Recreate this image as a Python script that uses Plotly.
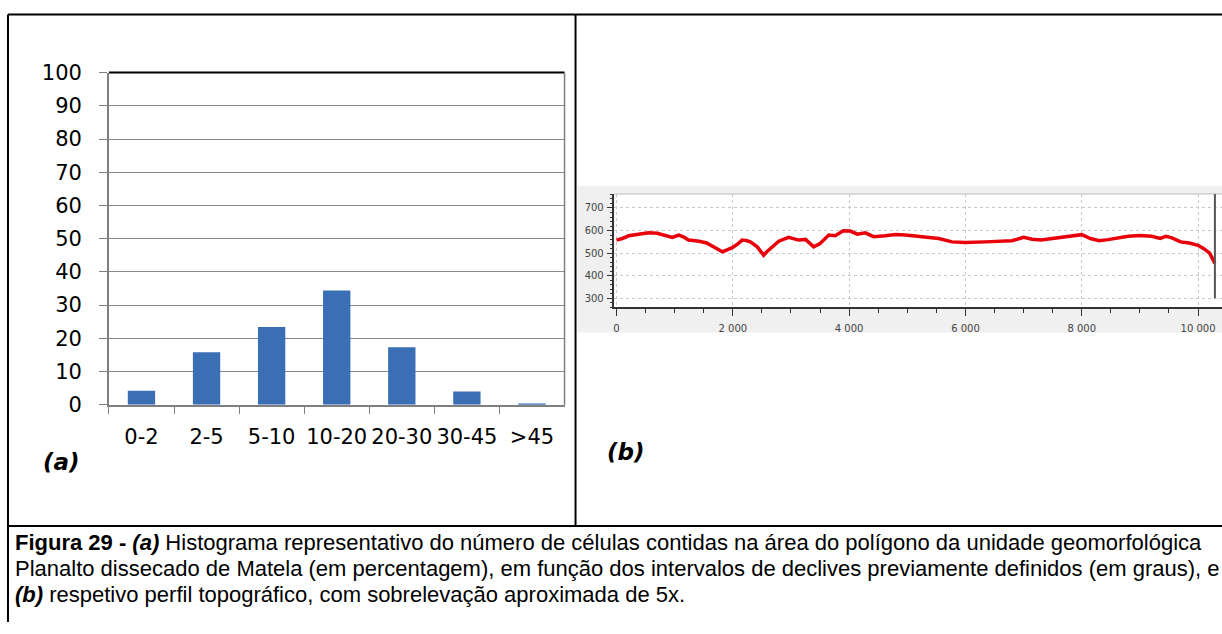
import plotly.graph_objects as go

W, H = 1222, 634

# ---- data: (a) slope histogram ----
slope_classes = ["0-2", "2-5", "5-10", "10-20", "20-30", "30-45", ">45"]
cell_percent = [4.2, 15.8, 23.4, 34.4, 17.3, 4.0, 0.2]
pct_ticks = [0, 10, 20, 30, 40, 50, 60, 70, 80, 90, 100]

# ---- data: (b) topographic profile ----
distance_m = [0, 100, 210, 350, 550, 700, 785, 900, 960, 1070, 1150, 1240, 1420, 1550,
              1640, 1750, 1820, 1900, 1990, 2080, 2160, 2230, 2300, 2420, 2480, 2530,
              2580, 2650, 2790, 2960, 3130, 3250, 3390, 3500, 3650, 3760, 3900, 4020,
              4140, 4280, 4420, 4620, 4800, 4970, 5200, 5540, 5770, 6000, 6340, 6570,
              6800, 7000, 7150, 7300, 7500, 7700, 7850, 8000, 8150, 8300, 8450, 8600,
              8800, 9000, 9200, 9350, 9450, 9550, 9700, 9850, 10000, 10100, 10200, 10290]
elevation_m = [558, 565, 577, 583, 590, 588, 583, 575, 570, 580, 572, 558, 553, 545,
               532, 520, 506, 515, 524, 540, 558, 556, 550, 528, 505, 491,
               505, 521, 553, 570, 558, 561, 528, 543, 580, 577, 599, 598,
               584, 590, 573, 577, 583, 580, 573, 565, 550, 547, 550, 553,
               555, 570, 562, 558, 565, 575, 580, 582, 565, 555, 560, 567,
               575, 578, 575, 565, 575, 568, 550, 545, 535, 520, 500, 455]
profile_end = distance_m[-1]

caption_lines = [
    "<b>Figura 29 - </b><b><i>(a)</i></b> Histograma representativo do número de células contidas na área do polígono da unidade geomorfológica",
    "Planalto dissecado de Matela (em percentagem), em função dos intervalos de declives previamente definidos (em graus), e",
    "<b><i>(b)</i></b> respetivo perfil topográfico, com sobrelevação aproximada de 5x.",
]


def px(x):
    return x / W


def py(y):
    # vertical placement, corrected for the capture's vertical offset/scale
    yy = (y - 12.6) / 0.959
    return min(1.0, max(0.0, 1 - yy / H))


fig = go.Figure()
fig.add_trace(go.Bar(x=slope_classes, y=cell_percent, width=0.42,
                     marker=dict(color="#3A6FB6", line=dict(width=0)),
                     xaxis="x", yaxis="y", showlegend=False))
fig.add_trace(go.Scatter(x=distance_m, y=elevation_m, mode="lines",
                         line=dict(color="#E8000B", width=3.5),
                         xaxis="x2", yaxis="y2", showlegend=False))

shapes = []
# gray panel & white plot area of the profile
shapes.append(dict(type="rect", xref="paper", yref="paper", x0=px(577), x1=1, y0=py(332), y1=py(186),
                   fillcolor="#f0f0f0", line=dict(width=0), layer="below"))
shapes.append(dict(type="rect", xref="paper", yref="paper", x0=px(614), x1=1, y0=py(307), y1=py(194),
                   fillcolor="white", line=dict(width=0), layer="below"))
shapes.append(dict(type="line", xref="paper", yref="paper", x0=px(614), x1=1, y0=py(194), y1=py(194),
                   line=dict(color="#bdbdbd", width=1)))
# end-of-profile marker line
shapes.append(dict(type="line", xref="x2", yref="y2", x0=profile_end, x1=profile_end, y0=300, y1=762,
                   line=dict(color="#555555", width=2)))
# bar chart top/right border
shapes.append(dict(type="line", xref="paper", yref="paper", x0=px(108), x1=px(564), y0=py(73), y1=py(73),
                   line=dict(color="black", width=2)))
shapes.append(dict(type="line", xref="paper", yref="paper", x0=px(564), x1=px(564), y0=py(73), y1=py(404),
                   line=dict(color="#7f7f7f", width=1.5)))
# table frame
for (x0, y0, x1, y1) in [(7, 15, 1222, 15), (7, 15, 7, 700), (575, 15, 575, 525), (7, 525, 1222, 525)]:
    shapes.append(dict(type="line", xref="paper", yref="paper", x0=px(x0), x1=px(x1), y0=py(y0), y1=py(y1),
                       line=dict(color="black", width=2)))

annotations = [
    dict(text="<b><i>(a)</i></b>", x=px(61), y=py(461), xref="paper", yref="paper", showarrow=False,
         xanchor="center", yanchor="middle", font=dict(family="DejaVu Sans", size=23, color="black")),
    dict(text="<b><i>(b)</i></b>", x=px(626), y=py(451), xref="paper", yref="paper", showarrow=False,
         xanchor="center", yanchor="middle", font=dict(family="DejaVu Sans", size=23, color="black")),
]
for i, line in enumerate(caption_lines):
    annotations.append(dict(text=line, x=px(12), y=py(541 + 26 * i), xref="paper", yref="paper",
                            showarrow=False, xanchor="left", yanchor="middle",
                            font=dict(family="Liberation Sans", size=22, color="black")))

fig.update_layout(
    width=W, height=H, margin=dict(l=0, r=0, t=0, b=0),
    paper_bgcolor="white", plot_bgcolor="rgba(0,0,0,0)",
    separators=", ", bargap=0.58, showlegend=False,
    xaxis=dict(domain=[px(108), px(564)], anchor="y", showline=True, linecolor="#7f7f7f", linewidth=1.5,
               ticks="outside", tickson="boundaries", ticklen=8, tickcolor="#7f7f7f", showgrid=False,
               tickangle=0,
               tickfont=dict(family="DejaVu Sans", size=21, color="black"), ticklabelstandoff=12),
    yaxis=dict(domain=[py(404), py(73)], anchor="x", range=[0, 100], tickvals=pct_ticks, showline=True,
               linecolor="#7f7f7f", linewidth=1.5, ticks="outside", ticklen=8, tickcolor="#7f7f7f",
               gridcolor="#8a8a8a", gridwidth=1, zeroline=False,
               tickfont=dict(family="DejaVu Sans", size=21, color="black"), ticklabelstandoff=13),
    xaxis2=dict(domain=[px(614), 1], anchor="y2", range=[-35, 10412], dtick=2000, tick0=0, tickformat=",d",
                showline=True, linecolor="#333333", linewidth=1.5, ticks="outside", ticklen=7,
                tickcolor="#333333", showgrid=True, gridcolor="#c8c8c8", griddash="dot", zeroline=False,
                minor=dict(dtick=500, tick0=0, ticks="outside", ticklen=4, tickcolor="#333333", showgrid=False),
                tickfont=dict(family="DejaVu Sans", size=10, color="#444444"), ticklabelstandoff=4),
    yaxis2=dict(domain=[py(307), py(194)], anchor="x2", range=[260, 762], dtick=100, tick0=0,
                showline=True, linecolor="#333333", linewidth=1.5, ticks="outside", ticklen=6,
                tickcolor="#333333", showgrid=True, gridcolor="#c8c8c8", griddash="dot", zeroline=False,
                minor=dict(dtick=20, tick0=0, ticks="outside", ticklen=3, tickcolor="#333333", showgrid=False),
                tickfont=dict(family="DejaVu Sans", size=10, color="#444444"), ticklabelstandoff=1),
    shapes=shapes, annotations=annotations,
)

fig.write_html(
    "out.html",
    config={"displayModeBar": False},
    post_script="document.body.style.margin='0';document.documentElement.style.overflow='hidden';",
)
